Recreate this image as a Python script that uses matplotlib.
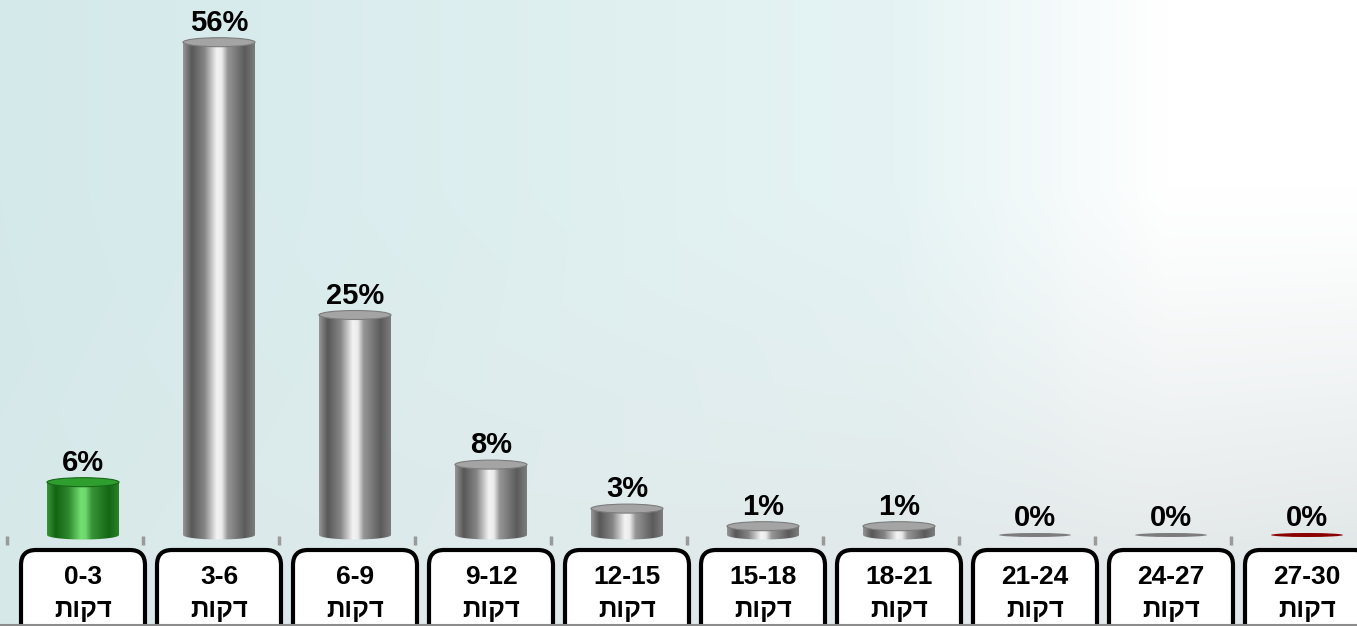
import numpy as np
import matplotlib.pyplot as plt
from matplotlib.patches import Ellipse, FancyBboxPatch, Polygon
from matplotlib.colors import LinearSegmentedColormap, to_rgb

# Share of calls by waiting time (minutes)
ranges = ['0-3', '3-6', '6-9', '9-12', '12-15', '15-18', '18-21', '21-24', '24-27', '27-30']
unit = 'דקות'
shares = [6, 56, 25, 8, 3, 1, 1, 0, 0, 0]
bar_kinds = ['green', 'gray', 'gray', 'gray', 'gray', 'gray', 'gray', 'gray', 'gray', 'red']

plt.rcParams['font.family'] = ['Liberation Sans', 'DejaVu Sans']

W, H, DPI = 1357, 626, 100
X_STEP = 136.0   # pixels between category centres
Y_STEP = 8.8     # pixels per percent
BASE_PX = 535    # baseline, pixels from top
FIRST_PX = 83    # first category centre, pixels from left

fig = plt.figure(figsize=(W / DPI, H / DPI), dpi=DPI)
ax = fig.add_axes([0, 0, 1, 1])
x0, x1 = -FIRST_PX / X_STEP, (W - FIRST_PX) / X_STEP
y0, y1 = -(H - BASE_PX) / Y_STEP, BASE_PX / Y_STEP
ax.set_xlim(x0, x1)
ax.set_ylim(y0, y1)
ax.axis('off')


def px_x(p):
    return p / X_STEP


def px_y(p):
    return p / Y_STEP


# soft teal-to-white backdrop with a grey haze towards the bottom
gx = np.linspace(0, 1, W)[None, :]
gy = np.linspace(0, 1, H)[:, None]
left = np.array([212, 233, 234]) / 255
mid = np.array([229, 243, 244]) / 255
haze = np.array([224, 230, 231]) / 255
t = np.clip(gx / 0.65, 0, 1)[..., None]
bg = left * (1 - t) + mid * t
r = np.clip((gx - 0.66) / 0.2, 0, 1)[..., None]
bg = bg * (1 - r) + 1.0 * r
h = (np.clip((gy - 0.3) / 0.6, 0, 1) ** 1.2)[..., None] * (0.3 + 0.7 * gx)[..., None]
bg = bg * (1 - h) + haze * h
ax.imshow(bg, extent=(x0, x1, y0, y1), aspect='auto', zorder=0, interpolation='bilinear')

# cylinder shading across the bar width
stops = [0.0, 0.12, 0.30, 0.47, 0.54, 0.62, 0.86, 1.0]
shade = [0.45, 0.08, 0.35, 1.0, 0.95, 0.45, 0.10, 0.30]
tones = {'gray': ('#4a4a4a', '#f4f4f4'),
         'green': ('#0a5a0a', '#72de72'),
         'red': ('#6a0000', '#e04848')}
cap_faces = {'gray': ('#a4a4a4', '#7c7c7c'),
             'green': ('#2e9e2e', '#176817'),
             'red': ('#b81010', '#8a0000')}
cmaps = {}
for kind, (dark, light) in tones.items():
    d, l = np.array(to_rgb(dark)), np.array(to_rgb(light))
    cmaps[kind] = LinearSegmentedColormap.from_list(
        kind, [(s, tuple(d + (l - d) * v)) for s, v in zip(stops, shade)])

xs = np.arange(len(shares))
width = px_x(72)
cap_h = px_y(9)
flat_h = px_y(4)
grad = np.linspace(0, 1, 256)[None, :]

bars = ax.bar(xs, shares, width=width, color='none', edgecolor='none', zorder=2)
for bar, v, kind in zip(bars, shares, bar_kinds):
    xl, w = bar.get_x(), bar.get_width()
    xc = xl + w / 2
    face, edge = cap_faces[kind]
    if v > 0:
        a = np.linspace(np.pi, 2 * np.pi, 60)
        outline = np.column_stack([np.r_[xc + w / 2 * np.cos(a), xl + w, xl],
                                   np.r_[cap_h / 2 * np.sin(a), v, v]])
        clip = Polygon(outline, closed=True, facecolor='none', edgecolor='none')
        ax.add_patch(clip)
        im = ax.imshow(grad, cmap=cmaps[kind], extent=(xl, xl + w, -cap_h, v),
                       aspect='auto', zorder=2, interpolation='bilinear')
        im.set_clip_path(clip)
        ax.add_patch(Ellipse((xc, v), w, cap_h, facecolor=face, edgecolor=edge,
                             lw=0.8, zorder=3))
        top = v + cap_h / 2
    else:
        ax.add_patch(Ellipse((xc, v), w, flat_h, facecolor=edge, edgecolor='none',
                             zorder=3))
        top = v + flat_h / 2
    ax.text(xc, top + px_y(7), f'{v}%', ha='center', va='baseline',
            fontsize=21, fontweight='bold', color='black', zorder=4)

# small separator ticks above the category boxes
ax.vlines(xs - 0.56, px_y(-1), px_y(-10), colors='#9a9a9a', lw=2.5, zorder=2)

# rounded label boxes
box_w = px_x(124)
box_top = px_y(-15)
for xc, rng in zip(xs, ranges):
    ax.add_patch(FancyBboxPatch((xc - box_w / 2, px_y(-120)), box_w, box_top - px_y(-120),
                                boxstyle=f'round,pad=0,rounding_size={px_x(15)}',
                                mutation_aspect=X_STEP / Y_STEP,
                                facecolor='white', edgecolor='black', lw=3, zorder=4))
    ax.text(xc, px_y(-42), rng, ha='center', va='center',
            fontsize=19, fontweight='bold', zorder=5)
    ax.text(xc, px_y(-75), unit[::-1], ha='center', va='center',
            fontsize=18.5, fontweight='bold', zorder=5)

ax.axhline(px_y(-90), color='#8c8c8c', lw=1.5, zorder=6)

ax.set_xlim(x0, x1)
ax.set_ylim(y0, y1)
fig.savefig('out.png', dpi=DPI)
